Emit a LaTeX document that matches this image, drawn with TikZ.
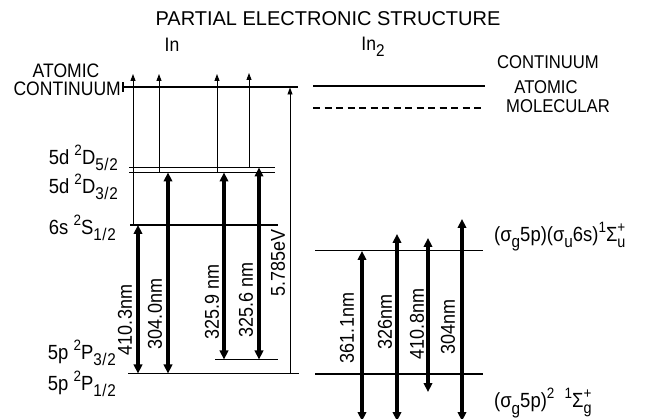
\documentclass[tikz,border=0pt]{standalone}
\usepackage{fontspec}
\setmainfont[FakeStretch=0.9]{Liberation Sans}
\newfontfamily\titlefont{Liberation Sans}
\usetikzlibrary{arrows.meta}
\newcommand\sps[1]{\raisebox{0.42em}{\fontsize{15}{15}\selectfont #1}}
\newcommand\sbs[1]{\raisebox{-0.32em}{\fontsize{17}{17}\selectfont #1}}
\newcommand\stk[2]{\rlap{\raisebox{0.45em}{\fontsize{15}{15}\selectfont #1}}\raisebox{-0.3em}{\fontsize{16}{16}\selectfont #2}}
\begin{document}
\begin{tikzpicture}[x=1pt,y=-1pt,
  lvl/.style={line width=1.1pt},
  thinarr/.style={line width=0.9pt,-{Triangle[length=7pt,width=5pt]}},
  thickarr/.style={line width=3.4pt,{Triangle[length=9pt,width=8.5pt]}-{Triangle[length=9pt,width=8.5pt]}},
  lab/.style={font=\fontsize{18.5}{19}\selectfont, inner sep=0pt},
  llab/.style={font=\fontsize{19.5}{20}\selectfont, inner sep=0pt},
  lvlab/.style={font=\fontsize{20.5}{21}\selectfont, inner sep=0pt, anchor=east},
  wl/.style={font=\fontsize{20}{20}\selectfont, rotate=90, inner sep=0pt},
]
\useasboundingbox (0,0) rectangle (645,419);

% ---- titles
\node[inner sep=0pt,font=\titlefont\fontsize{20}{21}\selectfont] (title) at (328,19) {PARTIAL ELECTRONIC STRUCTURE};
\node[llab] (In) at (172,45) {In};
\node[llab] (In2) at (373,47) {In\sbs{2}};

% ---- left level coordinates
\coordinate (contLa) at (123,87);  \coordinate (contLb) at (298,87);
\coordinate (d52a) at (129,167.5); \coordinate (d52b) at (275,167.5);
\coordinate (d32a) at (129,172.5); \coordinate (d32b) at (275,172.5);
\coordinate (s12a) at (130,225);   \coordinate (s12b) at (278,225);
\coordinate (p32a) at (215,359.5); \coordinate (p32b) at (278,359.5);
\coordinate (p12a) at (128,373.5); \coordinate (p12b) at (299,373.5);

\draw[lvl] (contLa) -- (contLb);
\draw[lvl] ([yshift=-5pt]contLa) -- ([yshift=5pt]contLa);
\draw[lvl] (d52a) -- (d52b);
\draw[lvl] (d32a) -- (d32b);
\draw[lvl] (s12a) -- (s12b);
\draw[lvl] (p32a) -- (p32b);
\draw[lvl] (p12a) -- (p12b);

% ---- left labels
\node[llab,anchor=center] (atomL) at (66,70.5) {ATOMIC};
\node[llab,anchor=east] (contL) at (121,88.5) {CONTINUUM};
\node[lvlab] (l1) at (118,158) {5d \sps{2}D\sbs{5\kern0.6pt/\kern0.6pt2}};
\node[lvlab] (l2) at (118,187) {5d \sps{2}D\sbs{3\kern0.6pt/\kern0.6pt2}};
\node[lvlab] (l3) at (116,228) {6s \sps{2}S\sbs{1\kern0.6pt/\kern0.6pt2}};
\node[lvlab] (l4) at (116,353) {5p \sps{2}P\sbs{3\kern0.6pt/\kern0.6pt2}};
\node[lvlab] (l5) at (116,384) {5p \sps{2}P\sbs{1\kern0.6pt/\kern0.6pt2}};

% ---- thin arrows to continuum
\coordinate (t1b) at (133,225);   \coordinate (t1t) at (133,74);
\coordinate (t2b) at (159,172.5); \coordinate (t2t) at (159,74);
\coordinate (t3b) at (217,172.5); \coordinate (t3t) at (217,74);
\coordinate (t4b) at (249,167.5); \coordinate (t4t) at (249,73);
\coordinate (t5b) at (290,373.5); \coordinate (t5t) at (290,87.5);
\draw[thinarr] (t1b) -- (t1t);
\draw[thinarr] (t2b) -- (t2t);
\draw[thinarr] (t3b) -- (t3t);
\draw[thinarr] (t4b) -- (t4t);
\draw[thinarr] (t5b) -- (t5t);

% ---- thick arrows (In)
\coordinate (k1a) at (138,225);   \coordinate (k1b) at (138,373.5);
\coordinate (k2a) at (168,172.5); \coordinate (k2b) at (168,373.5);
\coordinate (k3a) at (224,172.5); \coordinate (k3b) at (224,359.5);
\coordinate (k4a) at (259,167.5); \coordinate (k4b) at (259,359.5);
\draw[thickarr] (k1a) -- (k1b);
\draw[thickarr] (k2a) -- (k2b);
\draw[thickarr] (k3a) -- (k3b);
\draw[thickarr] (k4a) -- (k4b);

\node[wl] (w1) at (125,320) {410.3nm};
\node[wl] (w2) at (155,314) {304.0nm};
\node[wl] (w3) at (212,302) {325.9 nm};
\node[wl] (w4) at (246,300) {325.6 nm};
\node[wl] (w5) at (278,263) {5.785eV};

% ---- In2 levels
\coordinate (acA) at (313,86);  \coordinate (acB) at (485,86);
\coordinate (mcA) at (313,108); \coordinate (mcB) at (485,108);
\coordinate (upA) at (315,250.7); \coordinate (upB) at (483,250.7);
\coordinate (loA) at (315,374);   \coordinate (loB) at (483,374);
\draw[lvl] (acA) -- (acB);
\draw[lvl,dash pattern=on 7pt off 4.5pt] (mcA) -- (mcB);
\draw[lvl] (upA) -- (upB);
\draw[lvl] (loA) -- (loB);

\node[lab] (contR) at (548,62) {CONTINUUM};
\node[lab] (atomR) at (546,87) {ATOMIC};
\node[lab] (molR) at (558,106) {MOLECULAR};
\node[lvlab,anchor=west] (upLab) at (494,237) {(σ\sbs{g}5p)(σ\sbs{u}6s)\sps{1}Σ\stk{+}{u}};
\node[lvlab,anchor=west] (loLab) at (494,403) {(σ\sbs{g}5p)\sps{2}\ \ \sps{1}Σ\stk{+}{g}};

% ---- thick arrows (In2)
\coordinate (m1a) at (362,251);   \coordinate (m1b) at (362,421);
\coordinate (m2a) at (397,234);   \coordinate (m2b) at (397,421);
\coordinate (m3a) at (428,238);   \coordinate (m3b) at (428,392);
\coordinate (m4a) at (462,219);   \coordinate (m4b) at (462,421);
\draw[thickarr] (m1a) -- (m1b);
\draw[thickarr] (m2a) -- (m2b);
\draw[thickarr] (m3a) -- (m3b);
\draw[thickarr] (m4a) -- (m4b);

\node[wl] (v1) at (347,328) {361.1nm};
\node[wl] (v2) at (385,322) {326nm};
\node[wl] (v3) at (417,324) {410.8nm};
\node[wl] (v4) at (448,327) {304nm};
\end{tikzpicture}
\end{document}
